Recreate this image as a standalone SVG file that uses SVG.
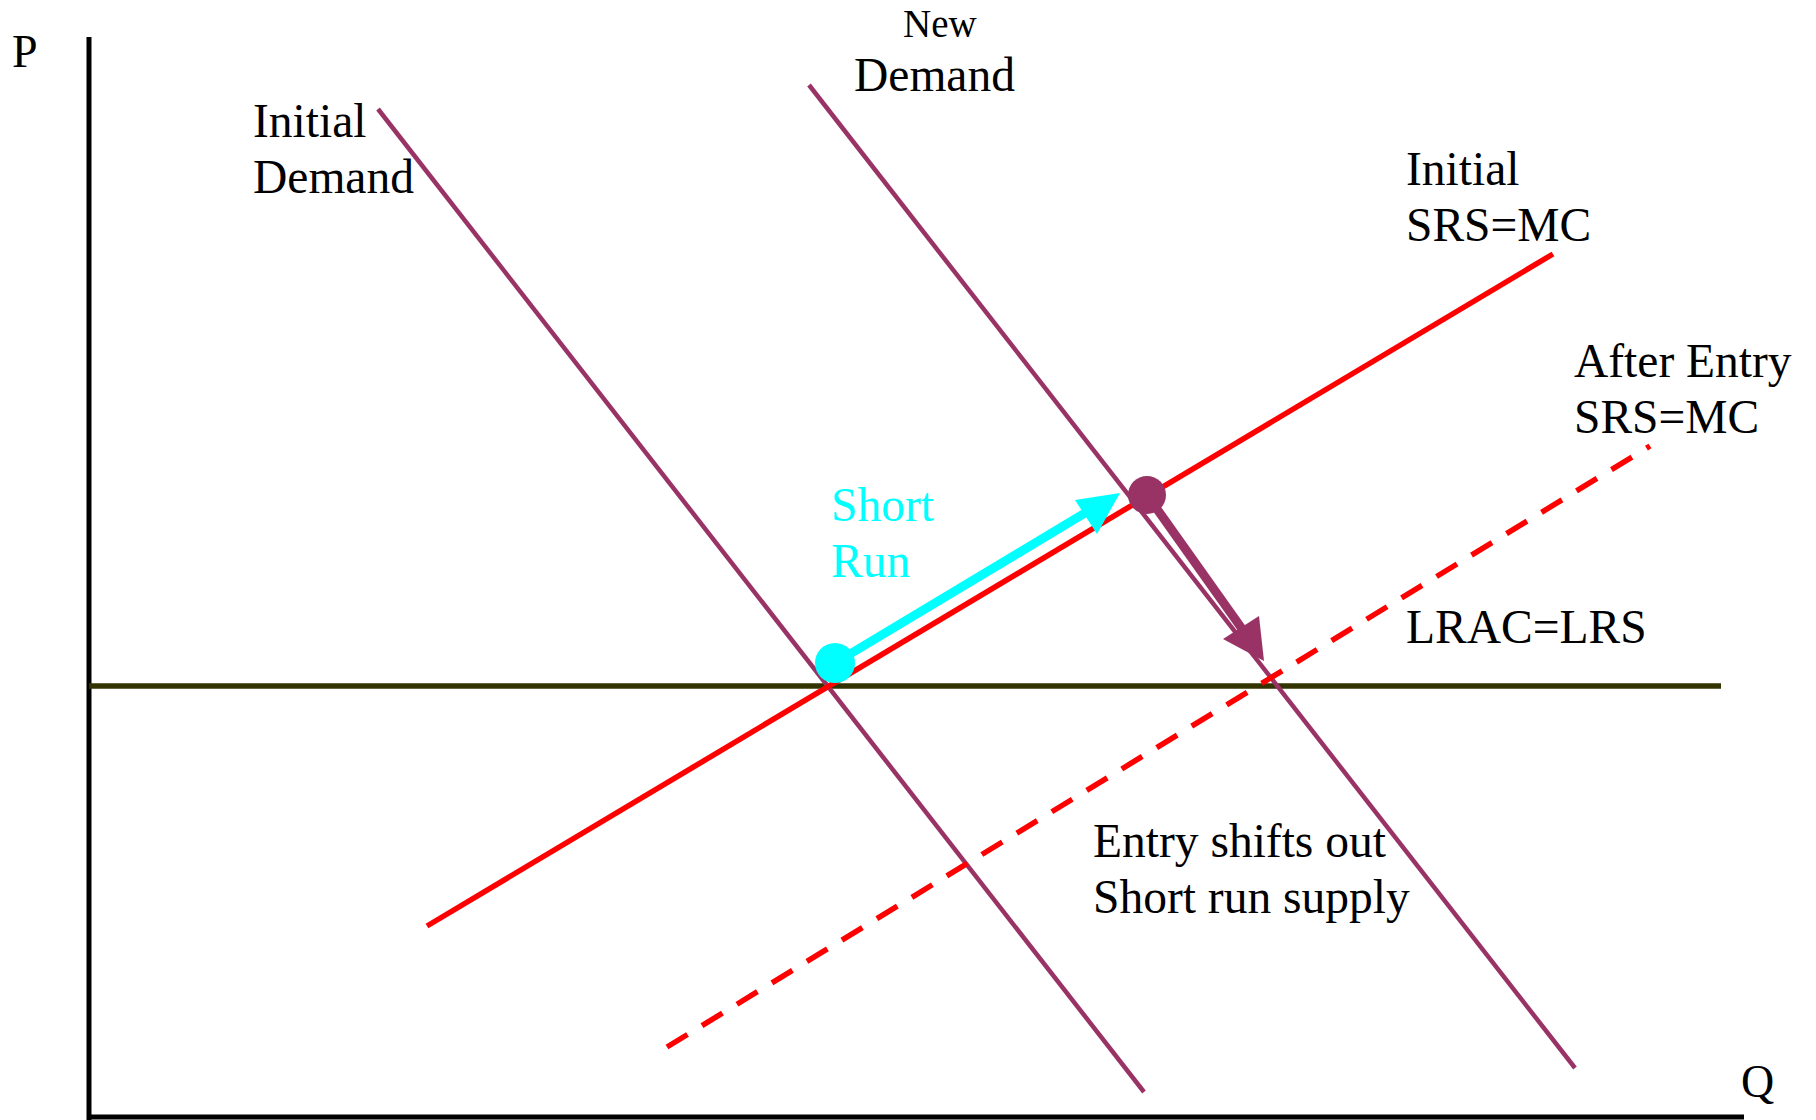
<svg xmlns="http://www.w3.org/2000/svg" width="1816" height="1120" viewBox="0 0 1816 1120">
<style>
text{font-family:"Liberation Serif","Times New Roman",serif;fill:#000}
.lbl{font-size:47.5px}
.ax{font-size:46px}
.dem{stroke:#993366;stroke-width:4.5;fill:none}
.srs{stroke:#ff0000;stroke-width:5.5;fill:none}
</style>
<rect width="1816" height="1120" fill="#fff"/>
<g id="axes">
<line x1="89" y1="37" x2="89" y2="1120" stroke="#000" stroke-width="5"/>
<line x1="87" y1="1117" x2="1744" y2="1117" stroke="#000" stroke-width="5"/>
<text class="ax" x="12" y="67">P</text>
<text class="ax" x="1741" y="1097">Q</text>
</g>
<g id="connectors">
<line id="lrac" x1="89" y1="686" x2="1721" y2="686" stroke="#333300" stroke-width="5.5"/>
<line id="initial-demand" class="dem" x1="378" y1="109" x2="1144" y2="1092"/>
<line id="new-demand" class="dem" x1="809" y1="85" x2="1575" y2="1068"/>
<line id="initial-srs" class="srs" x1="427" y1="926" x2="1553" y2="254"/>
<line id="after-srs" class="srs" x1="667" y1="1047" x2="1650" y2="446" stroke-dasharray="24 17"/>
<g id="short-run-arrow">
<line x1="835" y1="663" x2="1090" y2="510" stroke="#00ffff" stroke-width="9"/>
<polygon points="1120,493 1075,500 1097,534" fill="#00ffff"/>
</g>
<g id="entry-arrow">
<line x1="1147" y1="495" x2="1245" y2="633" stroke="#993366" stroke-width="9"/>
<polygon points="1264,661 1223,639 1259,616" fill="#993366"/>
</g>
</g>
<g id="point-initial"><circle cx="835" cy="663" r="20" fill="#00ffff"/></g>
<g id="point-new"><circle cx="1147" cy="495" r="19" fill="#993366"/></g>
<g id="label-initial-demand"><text class="lbl" x="253" y="137">Initial</text><text class="lbl" x="253" y="193">Demand</text></g>
<g id="label-new-demand"><text x="903" y="37" font-size="39">New</text><text class="lbl" x="854" y="91">Demand</text></g>
<g id="label-initial-srs"><text class="lbl" x="1406" y="185">Initial</text><text class="lbl" x="1406" y="241">SRS=MC</text></g>
<g id="label-after-srs"><text class="lbl" x="1574" y="377">After Entry</text><text class="lbl" x="1574" y="433">SRS=MC</text></g>
<g id="label-lrac"><text class="lbl" x="1406" y="643">LRAC=LRS</text></g>
<g id="label-short-run"><text class="lbl" x="831" y="521" style="fill:#00ffff">Short</text><text class="lbl" x="831" y="577" style="fill:#00ffff">Run</text></g>
<g id="label-entry"><text class="lbl" x="1093" y="857">Entry shifts out</text><text class="lbl" x="1093" y="913">Short run supply</text></g>
</svg>
